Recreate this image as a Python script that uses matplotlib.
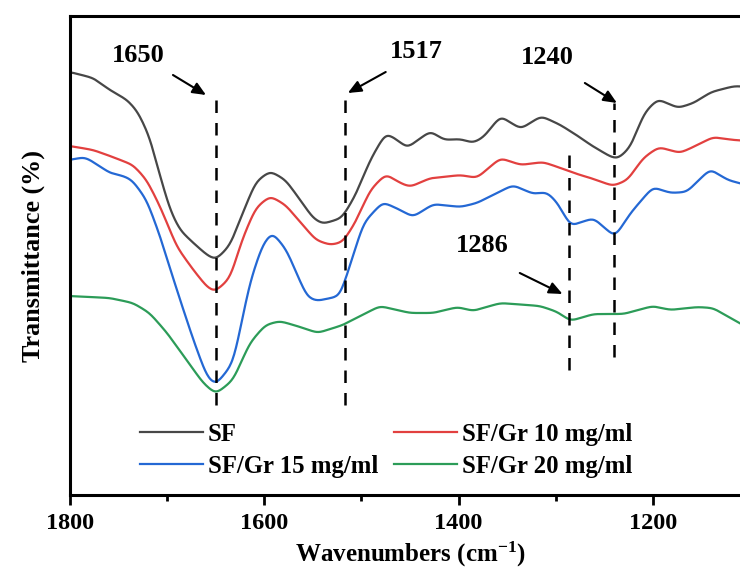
import numpy as np
import matplotlib
matplotlib.use("Agg")
import matplotlib.pyplot as plt

# FTIR spectra (transmittance in arbitrary units)
wn_sf = [1800, 1776, 1759, 1741, 1730, 1718, 1707, 1697, 1687, 1673, 1659, 1650,
         1635, 1623, 1609, 1594, 1578, 1563, 1550, 1540, 1520, 1506, 1491, 1475,
         1463, 1453, 1429, 1415, 1398, 1385, 1374, 1357, 1336, 1315, 1295, 1274,
         1264, 1243, 1236, 1223, 1209, 1195, 1174, 1158, 1140, 1116, 1100]
t_sf = [423, 417, 405, 395, 383, 358, 318, 285, 265, 252, 240, 235,
        250, 280, 313, 324, 315, 295, 277, 271, 277, 300, 335, 362,
        355, 347, 364, 355, 356, 352, 358, 379, 366, 379, 370, 357,
        350, 338, 336, 348, 382, 396, 387, 392, 403, 409, 408]

wn_10 = [1800, 1776, 1756, 1735, 1721, 1707, 1690, 1673, 1659, 1651, 1635, 1623,
         1609, 1594, 1578, 1563, 1547, 1532, 1519, 1506, 1491, 1475, 1460, 1450,
         1429, 1416, 1398, 1381, 1357, 1336, 1313, 1295, 1275, 1264, 1241, 1226,
         1210, 1194, 1172, 1154, 1138, 1117, 1100]
t_10 = [349, 345, 338, 330, 315, 288, 248, 225, 208, 203, 217, 255,
        287, 299, 290, 273, 255, 250, 253, 273, 305, 321, 312, 308,
        317, 318, 320, 317, 337, 330, 333, 327, 320, 317, 309, 315,
        337, 348, 342, 350, 358, 355, 354]

wn_15 = [1800, 1785, 1776, 1759, 1745, 1736, 1721, 1707, 1690, 1673, 1659, 1650,
         1632, 1615, 1602, 1592, 1577, 1566, 1556, 1546, 1522, 1509, 1498, 1478,
         1460, 1447, 1426, 1398, 1381, 1344, 1323, 1309, 1298, 1285, 1261, 1239,
         1223, 1200, 1182, 1165, 1141, 1123, 1100]
t_15 = [335, 338, 333, 322, 319, 315, 295, 258, 205, 155, 118, 110,
        132, 212, 250, 263, 245, 220, 198, 194, 199, 238, 272, 293,
        285, 278, 291, 288, 292, 310, 301, 303, 292, 269, 277, 258,
        282, 308, 302, 303, 326, 315, 309]

wn_20 = [1800, 1759, 1735, 1718, 1700, 1680, 1663, 1650, 1632, 1615, 1599, 1584,
         1563, 1545, 1519, 1481, 1450, 1426, 1401, 1385, 1357, 1316, 1298, 1285,
         1261, 1230, 1200, 1182, 1154, 1138, 1100]
t_20 = [199, 197, 192, 182, 162, 135, 112, 101, 115, 152, 170, 174,
        168, 162, 170, 189, 182, 182, 188, 184, 192, 189, 183, 174,
        181, 181, 189, 185, 188, 187, 166]

labels = ["SF", "SF/Gr 10 mg/ml", "SF/Gr 15 mg/ml", "SF/Gr 20 mg/ml"]
colors = ["#474747", "#e2403f", "#2468d4", "#2c9c58"]

# marked bands: wavenumber, dashed line span (y0, y1), label position, arrow tail/head
peaks = [1650, 1517, 1286, 1240]
peak_spans = [(90, 398), (90, 398), (125, 340), (138, 392)]
peak_text = [(1730, 440), (1444, 444), (1376, 250), (1309, 438)]
arrow_tail = [(1694, 420), (1475, 423), (1337, 222), (1270, 412)]
arrow_head = [(1660, 400), (1514, 402), (1293, 201), (1237, 392)]


def smooth(wn, t, step=1.0, width=4.0):
    wn = np.asarray(wn, float)[::-1]
    t = np.asarray(t, float)[::-1]
    x = np.arange(wn[0], wn[-1] + step, step)
    y = np.interp(x, wn, t)
    k = np.arange(-3 * width, 3 * width + step, step)
    g = np.exp(-0.5 * (k / width) ** 2)
    g /= g.sum()
    pad = len(k) // 2
    yp = np.concatenate([np.full(pad, y[0]), y, np.full(pad, y[-1])])
    return x, np.convolve(yp, g, mode="valid")


plt.rcParams["font.family"] = ["Liberation Serif", "DejaVu Serif"]
plt.rcParams["font.weight"] = "bold"
plt.rcParams["mathtext.fontset"] = "custom"
plt.rcParams["mathtext.rm"] = "Liberation Serif:bold"
plt.rcParams["mathtext.default"] = "rm"

fig = plt.figure(figsize=(7.40, 5.74), dpi=100)
ax = fig.add_axes([70 / 740, 79 / 574, 680 / 740, 479 / 574])

series = [(wn_sf, t_sf), (wn_10, t_10), (wn_15, t_15), (wn_20, t_20)]
lines = []
for (wn, t), lab, c in zip(series, labels, colors):
    x, y = smooth(wn, t)
    ln, = ax.plot(x, y, color=c, lw=1.6, label=lab)
    lines.append(ln)

for p, (y0, y1), (tx, ty), tail, head in zip(peaks, peak_spans, peak_text,
                                             arrow_tail, arrow_head):
    ax.plot([p, p], [y0, y1], color="black", lw=1.8, ls=(0, (5, 4)))
    ax.text(tx, ty, str(p), fontsize=19, fontweight="bold", ha="center", va="center")
    ax.annotate("", xy=head, xytext=tail,
                arrowprops=dict(arrowstyle="-|>,head_length=0.8,head_width=0.35",
                                color="black", lw=1.5, shrinkA=0, shrinkB=0))

ax.set_xlim(1800, 1100)
ax.set_ylim(0, 479)
ax.set_xticks([1800, 1600, 1400, 1200])
ax.set_xticks([1700, 1500, 1300], minor=True)
ax.set_yticks([])
ax.tick_params(axis="x", which="major", direction="out", length=7, width=2,
               labelsize=17.5, pad=6)
ax.tick_params(axis="x", which="minor", direction="out", length=4, width=2)
for s in ax.spines.values():
    s.set_linewidth(2.2)

ax.set_xlabel("Wavenumbers (cm$^{-1}$)", fontsize=18, fontweight="bold", labelpad=4)
ax.set_ylabel("Transmittance (%)", fontsize=18.8, fontweight="bold", labelpad=18)

leg = ax.legend([lines[0], lines[2], lines[1], lines[3]],
                [labels[0], labels[2], labels[1], labels[3]],
                ncol=2, frameon=False, fontsize=17.8, handlelength=2.55,
                handletextpad=0.2, columnspacing=0.65, labelspacing=0.35,
                loc="lower left", bbox_to_anchor=(0.07, -0.01))

fig.savefig("out.png", dpi=100)
